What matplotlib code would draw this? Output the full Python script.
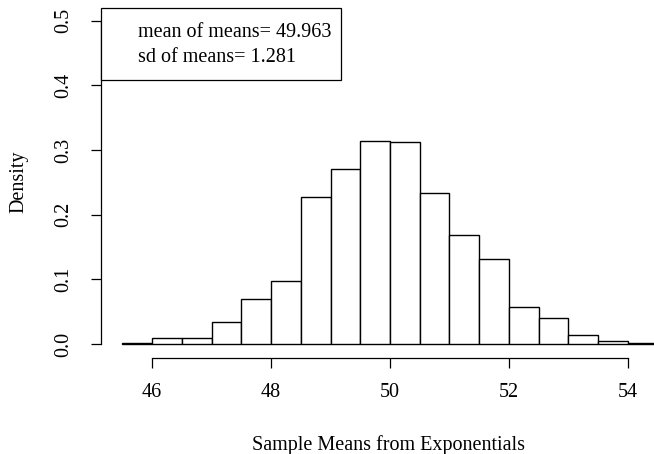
import numpy as np
import matplotlib.pyplot as plt
from matplotlib.patches import Rectangle

plt.rcParams['font.family'] = ['Liberation Serif', 'DejaVu Serif']

# histogram of 1000 sample means, bin width 0.5
bin_left = [45.5, 46.0, 46.5, 47.0, 47.5, 48.0, 48.5, 49.0, 49.5,
            50.0, 50.5, 51.0, 51.5, 52.0, 52.5, 53.0, 53.5, 54.0]
density = [0.002, 0.010, 0.010, 0.034, 0.070, 0.098, 0.228, 0.270, 0.314,
           0.312, 0.234, 0.168, 0.132, 0.058, 0.040, 0.014, 0.004, 0.002]
bin_w = 0.5
x_ticks = [46, 48, 50, 52, 54]
y_ticks = [0.0, 0.1, 0.2, 0.3, 0.4, 0.5]
legend_lines = ["mean of means= 49.963", "sd of means= 1.281"]

FS = 14.5
W, H = 654, 454
fig = plt.figure(figsize=(W / 100, H / 100), dpi=100)
# plot region in pixels (R style 4% padding), right side runs off the figure
left_px, right_px, top_px, bot_px = 101, 679, 7.8, 357
ax = fig.add_axes([left_px / W, 1 - bot_px / H,
                   (right_px - left_px) / W, (bot_px - top_px) / H])
ax.set_xlim(45.14, 54.86)
ax.set_ylim(-0.02, 0.52)

ax.bar(bin_left, density, width=bin_w, align='edge', color='white',
       edgecolor='black', linewidth=1.0)

for s in ['top', 'right']:
    ax.spines[s].set_visible(False)
ax.spines['left'].set_bounds(0, 0.5)
ax.spines['bottom'].set_bounds(46, 54)
ax.spines['bottom'].set_position(('outward', 1))
for s in ['left', 'bottom']:
    ax.spines[s].set_linewidth(0.9)

ax.set_xticks(x_ticks)
ax.set_xticklabels([str(t) for t in x_ticks])
ax.set_yticks(y_ticks)
ax.set_yticklabels([f"{t:.1f}" for t in y_ticks], rotation=90, va='center')
ax.tick_params(direction='out', length=7.2, width=0.9, labelsize=FS)
ax.tick_params(axis='x', pad=10.5)
ax.tick_params(axis='y', pad=13)

fig.text(388 / W, 1 - 450 / H, "Sample Means from Exponentials",
         fontsize=FS, ha='center', va='baseline')
fig.text(19 / W, 1 - 182 / H, "Density", fontsize=FS, rotation=90,
         ha='center', va='center')

# legend box anchored at top-left of the plot region
ax.add_patch(Rectangle((45.14, 0.408), 4.04, 0.112, transform=ax.transData,
                       facecolor='white', edgecolor='black', linewidth=0.9,
                       clip_on=False, zorder=5))
ax.text(45.765, 0.482, legend_lines[0], fontsize=FS, va='center', zorder=6)
ax.text(45.765, 0.4436, legend_lines[1], fontsize=FS, va='center', zorder=6)

fig.savefig("out.png", dpi=100, facecolor='white')
